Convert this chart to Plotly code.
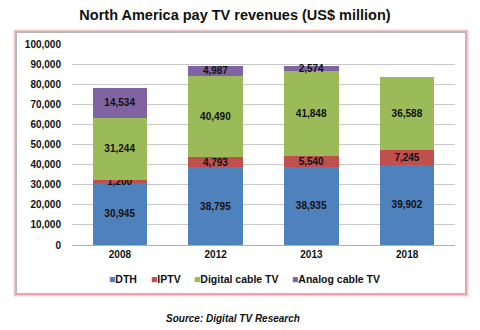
import plotly.graph_objects as go

categories = ["2008", "2012", "2013", "2018"]
dth = [30945, 38795, 38935, 39902]
iptv = [1200, 4793, 5540, 7245]
digital_cable = [31244, 40490, 41848, 36588]
analog_cable = [14534, 4987, 2574, 0]
series_names = ["DTH", "IPTV", "Digital cable TV", "Analog cable TV"]
series_values = [dth, iptv, digital_cable, analog_cable]
colors = ["#4F81BD", "#C0504D", "#9BBB59", "#8064A2"]
y_ticks = list(range(0, 100001, 10000))
y_ticktext = [f"{v:,}" for v in y_ticks]

FONT = "Liberation Sans, Arial, sans-serif"

fig = go.Figure()
for name, vals, col in zip(series_names, series_values, colors):
    texts = [f"<b>{v:,}</b>" if v > 0 else "" for v in vals]
    fig.add_trace(go.Bar(
        x=categories, y=vals, name=name, marker_color=col,
        marker_line_width=0,
        text=texts, textposition="inside", insidetextanchor="middle",
        constraintext="none", textangle=0,
        textfont=dict(family=FONT, size=10, color="#111111"),
        hoverinfo="skip", showlegend=False,
    ))

# plot area: x 72..455, y 44..245 (px)
L, R, T, B = 72, 25, 44, 85
pw, ph = 480 - L - R, 330 - T - B

def px2x(px):
    return (px - L) / pw

def py2y(py):
    return (330 - B - py) / ph

shapes = []
# pink glow
for w, op in [(7, 0.18), (5, 0.3), (3, 0.45)]:
    shapes.append(dict(type="rect", xref="paper", yref="paper", layer="below",
                       x0=px2x(16.5), x1=px2x(465.5), y0=py2y(293.5), y1=py2y(32.5),
                       line=dict(color=f"rgba(220,130,140,{op})", width=w),
                       fillcolor="rgba(0,0,0,0)"))
shapes.append(dict(type="rect", xref="paper", yref="paper", layer="below",
                   x0=px2x(16.5), x1=px2x(465.5), y0=py2y(293.5), y1=py2y(32.5),
                   line=dict(color="#B8B8B8", width=1), fillcolor="white"))

annotations = [dict(text="<b><i>Source: Digital TV Research</i></b>", xref="paper", yref="paper",
                    x=px2x(233), y=py2y(318), xanchor="center", yanchor="middle",
                    showarrow=False, font=dict(family=FONT, size=10, color="#111111"))]

# compact legend built from text (square marker + label)
legend_x = [107, 149, 192, 290]
for name, col, lx in zip(series_names, colors, legend_x):
    annotations.append(dict(
        text=f"<span style='color:{col}'>■</span><b>{name}</b>",
        xref="paper", yref="paper", x=px2x(lx), y=py2y(279),
        xanchor="left", yanchor="middle", showarrow=False,
        font=dict(family=FONT, size=10.5, color="#111111")))

fig.update_layout(
    width=480, height=330,
    margin=dict(l=L, r=R, t=T, b=B, pad=0),
    barmode="stack", bargap=0.43,
    plot_bgcolor="white", paper_bgcolor="white",
    font=dict(family=FONT, color="#111111"),
    title=dict(text="<b>North America pay TV revenues (US$ million)</b>",
               x=235 / 480, xanchor="center", y=1 - 15 / 330, yanchor="middle",
               font=dict(family=FONT, size=14.5, color="#111111")),
    xaxis=dict(showgrid=False, showline=True, linecolor="#B0B0B0", linewidth=1,
               ticks="", tickfont=dict(family=FONT, size=10, color="#111111", weight="bold"),
               fixedrange=True),
    yaxis=dict(range=[0, 100000], tickvals=y_ticks, ticktext=y_ticktext,
               showgrid=True, gridcolor="#C8C8C8", gridwidth=1,
               zeroline=False, ticks="", ticklabelstandoff=10,
               tickfont=dict(family=FONT, size=10, color="#111111", weight="bold"),
               fixedrange=True),
    showlegend=False,
    shapes=shapes,
    annotations=annotations,
)

fig.write_html("out.html")
